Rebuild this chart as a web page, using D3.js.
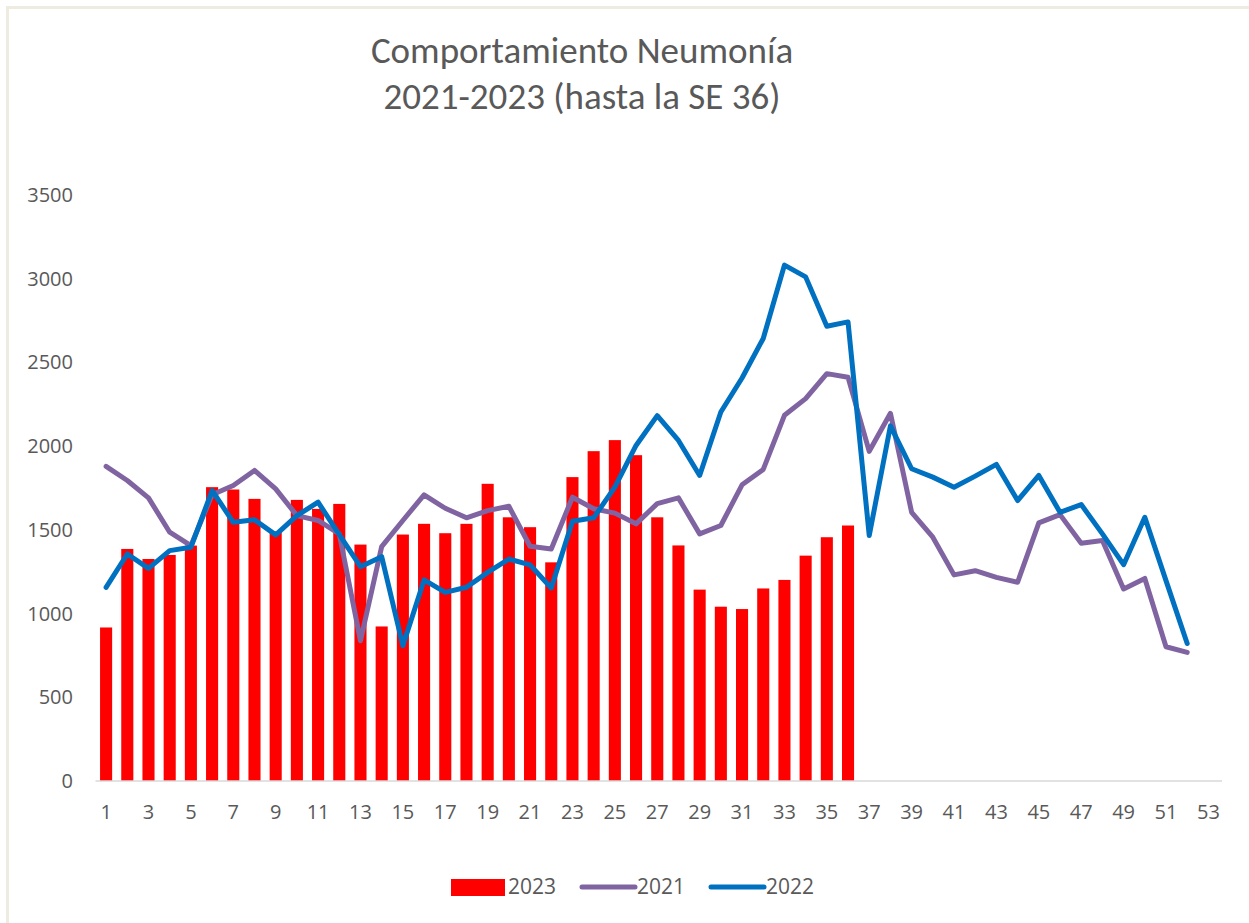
<!DOCTYPE html>
<meta charset="UTF-8">
<html>
<head>
<style>
html, body { margin:0; padding:0; background:#fff; }
svg { display:block; }
</style>
</head>
<body>
<svg width="1249" height="923"></svg>
<script src="https://cdn.jsdelivr.net/npm/d3@7"></script>
<script>
var weeks = d3.range(1, 54);
var xLabels = weeks.filter(function(w) { return w % 2 == 1; });
var yTicks = [0, 500, 1000, 1500, 2000, 2500, 3000, 3500];

// SE 1..36
var cases2023 = [917, 1386, 1326, 1350, 1406, 1755, 1741, 1685, 1490, 1679,
  1625, 1655, 1412, 923, 1472, 1536, 1480, 1536, 1775, 1575,
  1516, 1306, 1815, 1970, 2036, 1946, 1575, 1407, 1143, 1041,
  1027, 1150, 1201, 1346, 1456, 1526];

// SE 1..52
var cases2021 = [1879, 1795, 1691, 1486, 1406, 1710, 1765, 1855, 1745, 1585,
  1556, 1476, 838, 1400, 1556, 1709, 1629, 1572, 1615, 1641,
  1402, 1386, 1695, 1626, 1600, 1536, 1657, 1691, 1476, 1526,
  1769, 1861, 2184, 2284, 2433, 2411, 1969, 2196, 1605, 1456,
  1231, 1256, 1216, 1187, 1542, 1591, 1420, 1436, 1147, 1210,
  802, 768];

var cases2022 = [1157, 1356, 1270, 1376, 1396, 1735, 1545, 1560, 1470, 1585,
  1665, 1472, 1280, 1340, 808, 1201, 1127, 1157, 1246, 1326,
  1291, 1153, 1551, 1572, 1755, 2004, 2182, 2034, 1825, 2204,
  2407, 2643, 3081, 3011, 2716, 2742, 1466, 2121, 1865, 1815,
  1755, 1821, 1891, 1675, 1825, 1605, 1651, 1476, 1292, 1575,
  1197, 821];

var svg = d3.select("svg");
var font = "'Open Sans', 'Noto Sans', sans-serif";

// chart frame
svg.append("path")
  .attr("d", "M7.5,1249V7.5H1249")
  .attr("fill", "none")
  .attr("stroke", "#eeece1")
  .attr("stroke-width", 3);

var x = d3.scaleBand().domain(weeks).range([95.5, 1219]).paddingInner(0.43).paddingOuter(0.215);
var y = d3.scaleLinear().domain([0, 3500]).range([781, 195]);
var cx = function(w) { return x(w) + x.bandwidth() / 2; };

// title
var title = svg.append("text")
  .attr("text-anchor", "middle")
  .attr("fill", "#595959")
  .style("font-family", "Carlito, 'Liberation Sans Narrow', 'Open Sans', sans-serif")
  .style("font-size", "37px");
title.append("tspan").attr("x", 582).attr("y", 63).text("Comportamiento Neumonía");
title.append("tspan").attr("x", 582).attr("y", 109).text("2021-2023 (hasta la SE 36)");

// y axis labels
svg.append("g")
  .selectAll("text")
  .data(yTicks)
  .enter().append("text")
    .attr("x", 73)
    .attr("y", function(d) { return y(d); })
    .attr("dy", "0.35em")
    .attr("text-anchor", "end")
    .attr("fill", "#595959")
    .style("font-family", font)
    .style("font-size", "20px")
    .text(function(d) { return d; });

// bars 2023
svg.append("g")
  .selectAll("rect")
  .data(cases2023)
  .enter().append("rect")
    .attr("x", function(d, i) { return x(i + 1); })
    .attr("y", function(d) { return y(d); })
    .attr("width", x.bandwidth())
    .attr("height", function(d) { return y(0) - y(d); })
    .attr("fill", "#ff0000");

// x axis
svg.append("line")
  .attr("x1", 95.5).attr("x2", 1222)
  .attr("y1", y(0)).attr("y2", y(0))
  .attr("stroke", "#d9d9d9")
  .attr("stroke-width", 1.5);

svg.append("g")
  .selectAll("text")
  .data(xLabels)
  .enter().append("text")
    .attr("x", function(d) { return cx(d); })
    .attr("y", 812)
    .attr("dy", "0.35em")
    .attr("text-anchor", "middle")
    .attr("fill", "#595959")
    .style("font-family", font)
    .style("font-size", "20px")
    .text(function(d) { return d; });

// lines
var line = d3.line()
  .x(function(d, i) { return cx(i + 1); })
  .y(function(d) { return y(d); });

svg.append("path")
  .datum(cases2021)
  .attr("d", line)
  .attr("fill", "none")
  .attr("stroke", "#8064a2")
  .attr("stroke-width", 5)
  .attr("stroke-linejoin", "round")
  .attr("stroke-linecap", "round");

svg.append("path")
  .datum(cases2022)
  .attr("d", line)
  .attr("fill", "none")
  .attr("stroke", "#0070c0")
  .attr("stroke-width", 5)
  .attr("stroke-linejoin", "round")
  .attr("stroke-linecap", "round");

// legend
var legend = svg.append("g").style("font-family", font).style("font-size", "21px");
legend.append("rect")
  .attr("x", 451).attr("y", 879).attr("width", 54).attr("height", 17)
  .attr("fill", "#ff0000");
legend.append("text").attr("x", 508).attr("y", 887).attr("dy", "0.35em").attr("fill", "#595959").text("2023");

legend.append("line")
  .attr("x1", 582).attr("x2", 635).attr("y1", 887).attr("y2", 887)
  .attr("stroke", "#8064a2").attr("stroke-width", 5).attr("stroke-linecap", "round");
legend.append("text").attr("x", 637).attr("y", 887).attr("dy", "0.35em").attr("fill", "#595959").text("2021");

legend.append("line")
  .attr("x1", 711).attr("x2", 764).attr("y1", 887).attr("y2", 887)
  .attr("stroke", "#0070c0").attr("stroke-width", 5).attr("stroke-linecap", "round");
legend.append("text").attr("x", 766).attr("y", 887).attr("dy", "0.35em").attr("fill", "#595959").text("2022");
</script>
</body>
</html>
